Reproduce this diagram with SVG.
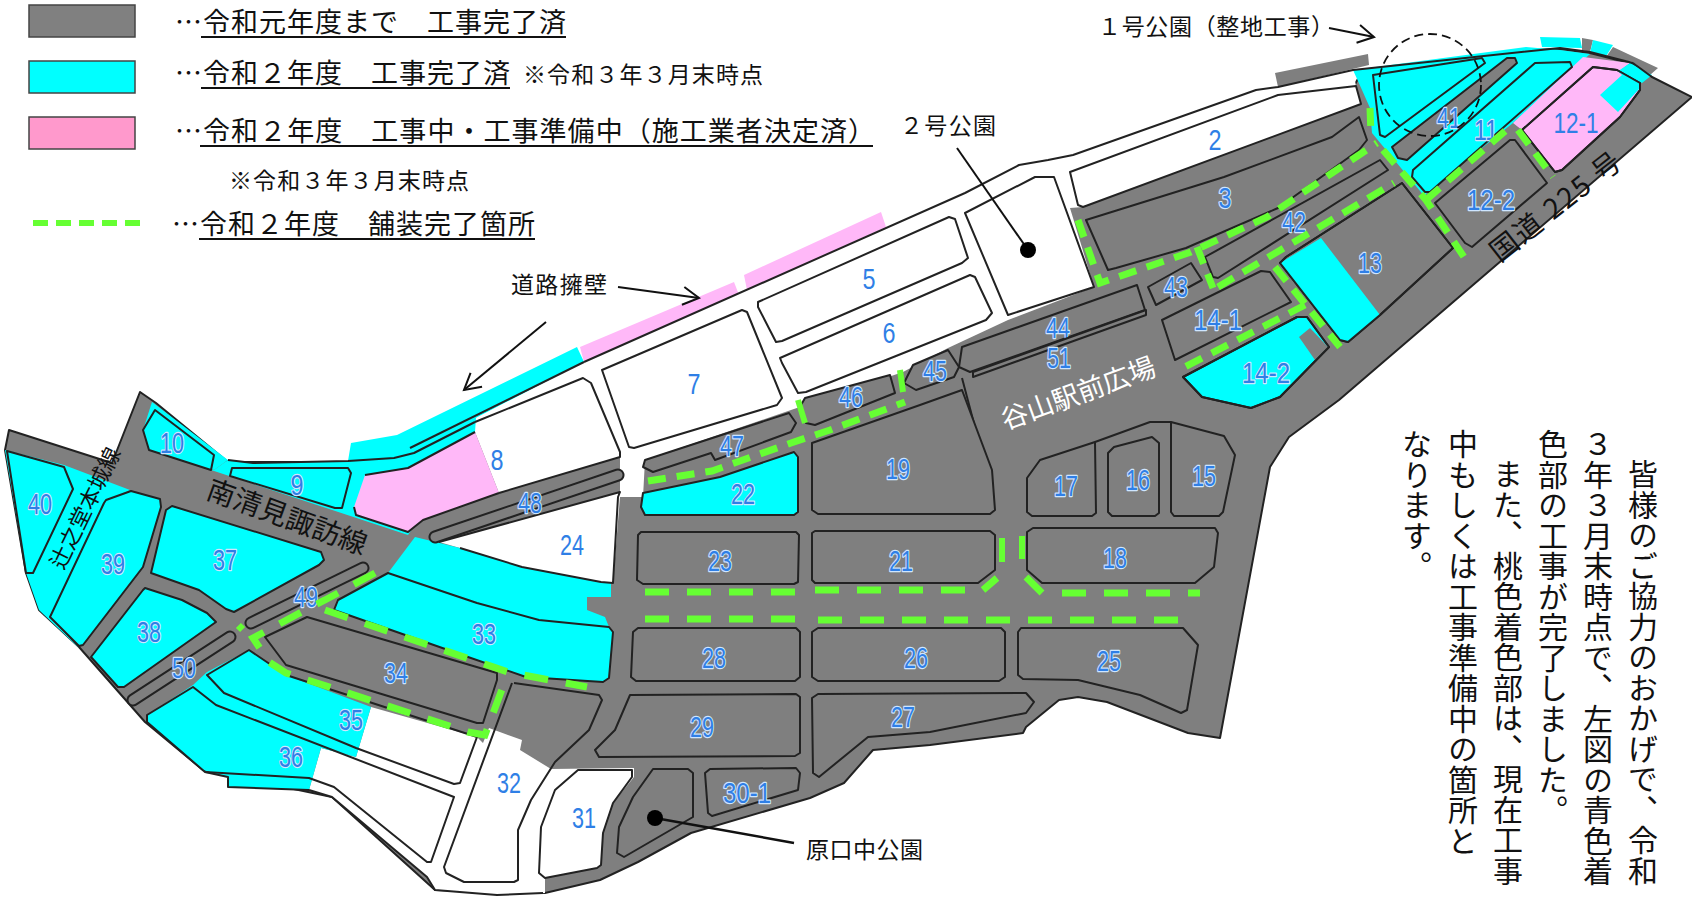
<svg xmlns="http://www.w3.org/2000/svg" width="1692" height="899" viewBox="0 0 1692 899">
<style>
text{font-family:"Noto Sans CJK JP","Noto Sans CJK SC",sans-serif;fill:#111}
.g{fill:#7f7f7f}.c{fill:#00ffff}.p{fill:#ffb8f8}.w{fill:#fff}
.l{stroke:#222;stroke-width:2;stroke-linejoin:round}
.s{fill:none;stroke:#222;stroke-width:2;stroke-linejoin:round}
.co{stroke:#222;stroke-width:13;stroke-linecap:round}
.ci{stroke:#7f7f7f;stroke-width:9;stroke-linecap:round}
.n{font-family:"Liberation Sans",Arial,sans-serif;font-size:29px;fill:#2f7fe6;text-anchor:middle}
.h{stroke:#cfe6ff;stroke-width:2.4px;paint-order:stroke;stroke-linejoin:round}
.le{font-size:27px}.sm{font-size:23px}.an{font-size:23px}
.u{stroke:#111;stroke-width:2}
.d1{fill:none;stroke:#66ff33;stroke-width:7;stroke-dasharray:24 18}
.d2{fill:none;stroke:#66ff33;stroke-width:7;stroke-dasharray:18 11}
.d0{fill:none;stroke:#66ff33;stroke-width:6}
.a{fill:none;stroke:#111;stroke-width:2}
.v{font-size:30px;letter-spacing:.5px;writing-mode:vertical-rl}
</style>
<defs>
<marker id="ah" markerWidth="22" markerHeight="22" refX="18" refY="11" orient="auto" markerUnits="userSpaceOnUse"><path d="M2 2L18 11L2 20" fill="none" stroke="#111" stroke-width="2"/></marker>
</defs>

<g id="legend">
<rect x="29" y="5" width="106" height="32" fill="#808080" stroke="#444" stroke-width="1.5"/>
<rect x="29" y="61" width="106" height="32" fill="#00ffff" stroke="#444" stroke-width="1.5"/>
<rect x="29" y="117" width="106" height="32" fill="#ff99cc" stroke="#444" stroke-width="1.5"/>
<line x1="33" y1="223" x2="143" y2="223" stroke="#66ff33" stroke-width="6" stroke-dasharray="15 8"/>
<text class="le" x="175" y="32" textLength="391">…令和元年度まで　工事完了済</text>
<line class="u" x1="201" y1="37" x2="566" y2="37"/>
<text class="le" x="175" y="83" textLength="335">…令和２年度　工事完了済</text>
<line class="u" x1="201" y1="88" x2="510" y2="88"/>
<text class="sm" x="523" y="83" textLength="240">※令和３年３月末時点</text>
<text class="le" x="175" y="141" textLength="700">…令和２年度　工事中・工事準備中（施工業者決定済）</text>
<line class="u" x1="200" y1="146" x2="873" y2="146"/>
<text class="sm" x="229" y="189" textLength="240">※令和３年３月末時点</text>
<text class="le" x="172" y="234" textLength="363">…令和２年度　舗装完了箇所</text>
<line class="u" x1="199" y1="239" x2="535" y2="239"/>
</g>

<g id="site-base">
<polygon class="p" points="580,347 734,282 739,295 584,362"/>
<polygon class="p" points="744,275 881,212 886,227 747,290"/>
<polygon class="g" points="1275,73 1368,54 1369,65 1278,87"/>
<polygon class="c" points="1540,37 1580,38 1582,48 1542,47"/>
<polygon class="g" points="1582,38 1593,40 1590,52 1582,50"/>
<polygon class="c" points="1593,40 1613,45 1605,58 1590,53"/>
<polygon class="g" points="1613,47 1658,68 1650,75 1633,62 1606,57"/>
<polygon class="g l" points="9,430 112,463 140,392 156,403 228,462 350,462 400,456 475,425 584,365 965,196 1019,168 1073,158 1256,93 1353,88 1360,75 1527,50 1560,49 1590,53 1633,64 1652,77 1692,97 1339,400 1289,437 1270,467 1220,738 1188,733 1107,702 1078,697 1059,700 1026,727 1023,733 930,745 873,750 844,783 810,798 691,833 638,862 600,880 545,893 435,890 332,797 203,770 145,722 79,647 39,610 26,573 5,450"/>
<polygon class="c" points="5,450 64,465 130,490 104,503 50,617 79,648 39,610 26,573"/>
<polygon class="c" points="152,402 228,460 214,470 149,450 143,430"/>
<polygon class="c" points="214,470 228,460 253,463 348,461 351,443 397,435 577,347 584,362 476,418 476,432 408,535 211,470"/>
<polygon class="w" points="584,362 965,193 1019,165 1048,160 1073,155 1256,90 1278,87 1353,70 1356,86 1361,104 1083,207 1070,208 1094,287 1008,320 948,348 903,372 791,410 645,460 643,497 620,497 620,457 499,493 475,432 476,418"/>
<polygon class="p" points="365,475 408,468 475,432 499,493 423,520 408,532 356,515 354,507"/>
<polygon class="w" points="439,542 620,492 620,497 613,583 601,582 522,567 460,548"/>
<polygon class="c" points="415,537 460,548 522,567 601,582 611,583 611,597 587,597 587,610 605,617 609,627 539,620 477,603 388,573"/>
<polygon class="w" points="371,707 477,737 483,743 489,728 522,740 520,750 551,769 634,768 634,777 613,803 603,833 601,865 545,878 545,893 497,895 435,890 427,877 332,797 309,790 321,748 356,757"/>
<polygon class="c" points="147,715 193,685 207,672 249,650 286,675 371,707 356,757 321,748 309,790 228,787 228,777 203,770 147,722"/>
<polygon class="c" points="1353,70 1526,47 1560,50 1590,54 1513,123 1427,192 1425,197 1372,133 1370,108 1362,90"/>
<polygon class="p" points="1583,57 1630,63 1617,73 1593,67 1522,130 1513,123"/>
<polygon class="c" points="1630,63 1652,75 1642,83 1617,72"/>
</g>

<g id="site-outlines">
<polyline class="s" points="584,362 965,193 1019,165 1048,160 1073,155 1256,90 1278,87 1353,70 1560,48 1590,52 1633,63 1652,77"/>
<polyline class="s" points="410,448 584,362"/>
<polyline class="s" points="365,475 408,468 475,432"/>
<polyline class="s" points="354,507 356,515 408,532 423,520 499,493"/>
<polyline class="s" points="475,422 583,378 591,383 620,452 620,457 499,493"/>
<polyline class="s" points="228,460 253,463 348,461 394,458 414,453 475,422"/>
<polyline class="s" points="439,542 620,492 618,497 613,583 601,582 522,567 460,548"/>
<polyline class="s" points="309,790 332,797 427,877 435,890 497,895 543,893"/>
<polyline class="s" points="205,772 228,777 228,787 309,790"/>
<polyline class="s" points="512,683 444,867 446,873 464,882 514,882 518,880 518,830 531,800 555,762 589,730 602,700 599,695 514,683"/>
<polyline class="s" points="1095,442 1150,422 1171,422"/>
</g>

<g id="lot-2"><polygon class="w l" points="1070,172 1278,95 1356,86 1361,104 1083,207 1078,205"/><text class="n" x="1215" y="150" textLength="13" lengthAdjust="spacingAndGlyphs">2</text></g>
<g id="park-2"><polygon class="w l" points="1035,177 1054,177 1094,287 1008,315 965,213"/></g>
<g id="lot-3"><polygon class="g l" points="1359,117 1367,140 1359,150 1278,208 1186,248 1116,268 1108,270 1086,220 1224,177 1332,137"/><text class="n h" x="1225" y="208" textLength="13" lengthAdjust="spacingAndGlyphs">3</text></g>
<g id="lot-5"><polygon class="w l" points="758,302 949,217 955,219 968,258 962,263 782,341 776,342 758,307"/><text class="n" x="869" y="289" textLength="13" lengthAdjust="spacingAndGlyphs">5</text></g>
<g id="lot-6"><polygon class="w l" points="780,358 970,275 975,277 992,313 986,320 806,392 798,393 782,363"/><text class="n" x="889" y="343" textLength="13" lengthAdjust="spacingAndGlyphs">6</text></g>
<g id="lot-7"><polygon class="w l" points="602,370 742,310 747,312 782,398 777,405 634,448 629,447"/><text class="n" x="694" y="394" textLength="13" lengthAdjust="spacingAndGlyphs">7</text></g>
<g id="lot-8"><text class="n" x="497" y="470" textLength="13" lengthAdjust="spacingAndGlyphs">8</text></g>
<g id="lot-9"><polygon class="c l" points="232,468 348,468 351,473 342,508 335,508 230,476"/><text class="n h" x="297" y="495" textLength="13" lengthAdjust="spacingAndGlyphs">9</text></g>
<g id="lot-10"><polygon class="c l" points="155,410 143,430 149,450 211,470 214,455"/><text class="n h" x="172" y="453" textLength="24" lengthAdjust="spacingAndGlyphs">10</text></g>
<g id="lot-1"><polygon class="c l" points="1373,75 1482,58 1485,63 1385,137 1380,135"/></g>
<g id="lot-41"><polygon class="g l" points="1392,147 1507,58 1515,58 1517,63 1407,160 1398,158"/><text class="n h" x="1449" y="128" textLength="24" lengthAdjust="spacingAndGlyphs">41</text></g>
<g id="lot-11"><polygon class="c l" points="1535,63 1570,62 1572,67 1430,192 1425,192 1412,177 1413,170"/><text class="n h" x="1486" y="140" textLength="24" lengthAdjust="spacingAndGlyphs">11</text></g>
<g id="lot-12-1"><polygon class="p l" points="1593,67 1617,70 1640,83 1640,90 1620,117 1562,170 1555,172 1522,130"/><polygon class="c" points="1622,75 1600,95 1618,112 1640,88 1640,83 1617,70"/><polygon class="s" points="1593,67 1617,70 1640,83 1640,90 1620,117 1562,170 1555,172 1522,130"/><text class="n" x="1576" y="133" textLength="45" lengthAdjust="spacingAndGlyphs">12-1</text></g>
<g id="lot-12-2"><polygon class="g l" points="1510,140 1515,140 1547,183 1472,247 1465,243 1435,203"/><text class="n h" x="1491" y="210" textLength="48" lengthAdjust="spacingAndGlyphs">12-2</text></g>
<g id="lot-13"><polygon class="g l" points="1402,183 1453,248 1380,315 1348,342 1340,340 1280,263 1286,257"/><polygon class="c" points="1321,238 1380,315 1348,342 1340,340 1280,263"/><polygon class="s" points="1402,183 1453,248 1380,315 1348,342 1340,340 1280,263 1286,257"/><text class="n h" x="1370" y="273" textLength="24" lengthAdjust="spacingAndGlyphs">13</text></g>
<g id="lot-14-1"><polygon class="g l" points="1261,271 1270,272 1291,302 1175,360 1162,320"/><text class="n h" x="1218" y="330" textLength="48" lengthAdjust="spacingAndGlyphs">14-1</text></g>
<g id="lot-14-2"><polygon class="c l" points="1297,317 1307,317 1329,347 1280,397 1251,408 1202,397 1183,377"/><polygon class="g" points="1310,328 1299,337 1315,360 1328,347"/><polygon class="s" points="1297,317 1307,317 1329,347 1280,397 1251,408 1202,397 1183,377"/><text class="n h" x="1266" y="383" textLength="48" lengthAdjust="spacingAndGlyphs">14-2</text></g>
<g id="lot-42"><polygon class="g l" points="1380,160 1388,170 1218,278 1213,277 1205,257"/><text class="n h" x="1294" y="232" textLength="24" lengthAdjust="spacingAndGlyphs">42</text></g>
<g id="lot-43"><polygon class="g l" points="1191,263 1202,280 1156,305 1148,287"/><text class="n h" x="1176" y="297" textLength="24" lengthAdjust="spacingAndGlyphs">43</text></g>
<g id="lot-44"><polygon class="g l" points="962,347 1137,285 1145,310 970,372 959,367"/><text class="n h" x="1058" y="338" textLength="24" lengthAdjust="spacingAndGlyphs">44</text></g>
<g id="lot-51"><polygon class="g l" points="973,372 973,377 1146,315 1146,310"/><polyline class="s" points="962,378 981,450"/><text class="n h" x="1059" y="368" textLength="24" lengthAdjust="spacingAndGlyphs">51</text></g>
<g id="lot-45"><polygon class="g l" points="948,350 959,367 954,377 916,390 904,383 913,365"/><text class="n h" x="935" y="381" textLength="24" lengthAdjust="spacingAndGlyphs">45</text></g>
<g id="lot-46"><polygon class="g l" points="890,375 895,393 815,425 806,423 801,405 805,398"/><text class="n h" x="851" y="407" textLength="24" lengthAdjust="spacingAndGlyphs">46</text></g>
<g id="lot-47"><polygon class="g l" points="789,413 796,423 791,432 715,460 711,453 653,472 643,467 645,460"/><text class="n h" x="732" y="456" textLength="24" lengthAdjust="spacingAndGlyphs">47</text></g>
<g id="lot-48"><line class="co" x1="435" y1="537" x2="618" y2="475"/><line class="ci" x1="435" y1="537" x2="618" y2="475"/><text class="n h" x="530" y="513" textLength="24" lengthAdjust="spacingAndGlyphs">48</text></g>
<g id="lot-49"><line class="co" x1="251" y1="623" x2="363" y2="568"/><line class="ci" x1="251" y1="623" x2="363" y2="568"/><text class="n h" x="306" y="607" textLength="24" lengthAdjust="spacingAndGlyphs">49</text></g>
<g id="lot-50"><line class="co" x1="133" y1="700" x2="230" y2="637"/><line class="ci" x1="133" y1="700" x2="230" y2="637"/><text class="n h" x="184" y="678" textLength="24" lengthAdjust="spacingAndGlyphs">50</text></g>
<g id="lot-15"><polygon class="g l" points="1171,422 1224,436 1235,455 1223,512 1219,516 1174,516 1171,512"/><text class="n h" x="1204" y="486" textLength="24" lengthAdjust="spacingAndGlyphs">15</text></g>
<g id="lot-16"><polygon class="g l" points="1114,447 1152,437 1159,443 1159,513 1155,516 1112,516 1108,512 1108,453"/><text class="n h" x="1138" y="490" textLength="24" lengthAdjust="spacingAndGlyphs">16</text></g>
<g id="lot-17"><polygon class="g l" points="1040,460 1095,442 1096,513 1092,516 1032,516 1027,512 1027,478"/><text class="n h" x="1066" y="496" textLength="24" lengthAdjust="spacingAndGlyphs">17</text></g>
<g id="lot-18"><polygon class="g l" points="1033,528 1215,528 1218,533 1214,567 1195,583 1042,583 1027,570 1027,532"/><text class="n h" x="1115" y="568" textLength="24" lengthAdjust="spacingAndGlyphs">18</text></g>
<g id="lot-19"><polygon class="g l" points="812,443 920,405 962,390 992,470 995,510 990,514 818,514 812,510"/><text class="n h" x="898" y="479" textLength="24" lengthAdjust="spacingAndGlyphs">19</text></g>
<g id="lot-21"><polygon class="g l" points="815,531 990,531 995,535 995,570 978,583 815,583 812,580 812,533"/><text class="n h" x="901" y="571" textLength="24" lengthAdjust="spacingAndGlyphs">21</text></g>
<g id="lot-22"><polygon class="c l" points="794,452 798,457 798,512 794,515 645,515 641,507 643,493 720,477"/><text class="n h" x="743" y="504" textLength="24" lengthAdjust="spacingAndGlyphs">22</text></g>
<g id="lot-23"><polygon class="g l" points="641,532 796,532 799,535 798,582 794,584 643,584 637,580 638,535"/><text class="n h" x="720" y="571" textLength="24" lengthAdjust="spacingAndGlyphs">23</text></g>
<g id="lot-24"><text class="n" x="572" y="555" textLength="24" lengthAdjust="spacingAndGlyphs">24</text></g>
<g id="lot-25"><polygon class="g l" points="1021,628 1183,628 1198,645 1187,710 1181,713 1140,695 1078,680 1023,679 1018,675 1018,632"/><text class="n h" x="1109" y="671" textLength="24" lengthAdjust="spacingAndGlyphs">25</text></g>
<g id="lot-26"><polygon class="g l" points="818,628 1001,628 1005,632 1005,677 999,681 818,681 812,677 812,632"/><text class="n h" x="916" y="668" textLength="24" lengthAdjust="spacingAndGlyphs">26</text></g>
<g id="lot-27"><polygon class="g l" points="818,694 1026,693 1034,702 1026,713 930,732 868,737 819,777 813,773 812,698"/><text class="n h" x="903" y="727" textLength="24" lengthAdjust="spacingAndGlyphs">27</text></g>
<g id="lot-28"><polygon class="g l" points="638,628 796,628 800,632 800,677 795,681 636,681 631,677 633,632"/><text class="n h" x="714" y="668" textLength="24" lengthAdjust="spacingAndGlyphs">28</text></g>
<g id="lot-29"><polygon class="g l" points="630,695 796,694 800,697 800,753 795,756 599,757 595,750 615,730"/><text class="n h" x="702" y="737" textLength="24" lengthAdjust="spacingAndGlyphs">29</text></g>
<g id="lot-30-1"><polygon class="g l" points="710,769 796,768 800,773 798,790 712,816 708,813 705,773"/><text class="n h" x="747" y="803" textLength="48" lengthAdjust="spacingAndGlyphs">30-1</text></g>
<g id="harakuchi-park"><polygon class="g l" points="653,769 688,769 693,773 693,817 624,857 617,853 619,827 633,797"/></g>
<g id="lot-31"><polygon class="w l" points="578,770 632,770 632,777 613,803 603,833 601,865 597,868 545,878 539,873 541,827 555,790"/><text class="n" x="584" y="828" textLength="24" lengthAdjust="spacingAndGlyphs">31</text></g>
<g id="lot-32"><text class="n" x="509" y="793" textLength="24" lengthAdjust="spacingAndGlyphs">32</text></g>
<g id="lot-33"><polygon class="c l" points="388,573 477,603 539,620 609,627 613,632 609,678 603,682 526,677 468,657 334,610 338,600"/><text class="n h" x="484" y="644" textLength="24" lengthAdjust="spacingAndGlyphs">33</text></g>
<g id="lot-34"><polygon class="g l" points="307,617 497,673 497,680 483,723 477,723 286,665 265,637"/><text class="n h" x="396" y="683" textLength="24" lengthAdjust="spacingAndGlyphs">34</text></g>
<g id="lot-35"><polygon class="s" points="249,650 286,675 477,737 460,783 454,784 356,748 224,693 207,675"/><text class="n h" x="351" y="730" textLength="24" lengthAdjust="spacingAndGlyphs">35</text></g>
<g id="lot-36"><polygon class="s" points="193,687 216,705 454,797 431,862 427,862 334,787 309,778 205,772 147,722 147,715"/><text class="n h" x="291" y="767" textLength="24" lengthAdjust="spacingAndGlyphs">36</text></g>
<g id="lot-37"><polygon class="c l" points="172,506 321,552 324,560 319,565 234,612 226,609 199,590 151,573 166,510"/><text class="n h" x="225" y="570" textLength="24" lengthAdjust="spacingAndGlyphs">37</text></g>
<g id="lot-38"><polygon class="c l" points="145,588 182,600 207,613 216,622 124,687 118,687 91,657 143,590"/><text class="n h" x="149" y="642" textLength="24" lengthAdjust="spacingAndGlyphs">38</text></g>
<g id="lot-39"><polygon class="c l" points="106,500 131,491 160,499 161,507 143,567 83,645 79,646 50,617 104,503"/><text class="n h" x="113" y="574" textLength="24" lengthAdjust="spacingAndGlyphs">39</text></g>
<g id="lot-40"><polygon class="c l" points="7,451 64,467 73,489 33,573 26,573"/><text class="n h" x="40" y="514" textLength="24" lengthAdjust="spacingAndGlyphs">40</text></g>

<g id="connectors">
<path class="d1" d="M645 592H796M815 590H983L997 578"/>
<path class="d1" d="M1026 577L1042 593M1062 593H1200"/>
<path class="d1" d="M645 619H796M818 620H1193"/>
<path class="d0" d="M1002 538V562M1022 536V559M900 370L903 392M798 400L805 423"/>
<path class="d2" d="M648 481L712 471L791 443L830 430L905 402"/>
<path class="d1" d="M375 573L325 600L309 608L253 638L269 662L286 673L468 732L485 735L508 673"/>
<path class="d1" d="M325 610L508 672L539 678L587 687"/>
<path class="d0" d="M238 630L243 625"/>
<path class="d2" d="M1078 220L1100 283L1191 252L1267 217L1332 173L1377 143M1370 108L1371 135"/>
<path class="d2" d="M1197 247L1213 288M1218 287L1394 183"/>
<path class="d2" d="M1383 150L1426 200L1464 257M1426 200L1512 125M1518 130L1553 177"/>
<path class="d2" d="M1275 267L1340 347M1305 305L1183 368"/>
<line class="a" x1="618" y1="287" x2="699" y2="298" marker-end="url(#ah)"/>
<line class="a" x1="546" y1="322" x2="464" y2="390" marker-end="url(#ah)"/>
<line class="a" x1="1329" y1="28" x2="1374" y2="37" marker-end="url(#ah)"/>
<line class="a" x1="957" y1="148" x2="1028" y2="250"/>
<circle cx="1028" cy="250" r="8" fill="#000"/>
<line x1="655" y1="818" x2="794" y2="843" stroke="#111" stroke-width="2.5"/>
<circle cx="655" cy="818" r="8" fill="#000"/>
<circle cx="1430" cy="85" r="51" fill="none" stroke="#111" stroke-width="1.8" stroke-dasharray="9 5"/>
</g>

<g id="annotations">
<text class="an" x="511" y="293" textLength="96">道路擁壁</text>
<text class="an" x="900" y="134" textLength="96">２号公園</text>
<text class="an" x="1098" y="35" textLength="236">１号公園（整地工事）</text>
<text class="an" x="806" y="858" textLength="117">原口中公園</text>
<text x="287" y="527" font-size="28" text-anchor="middle" transform="rotate(20 287 517)">南清見諏訪線</text>
<text x="85" y="516" font-size="22" text-anchor="middle" transform="rotate(-64 85 508)">辻之堂本城線</text>
<text x="1556" y="216" font-size="28" text-anchor="middle" letter-spacing="2" transform="rotate(-38 1556 206)">国道 225 号</text>
<text x="1078" y="403" font-size="27" text-anchor="middle" style="fill:#fff" transform="rotate(-20 1078 393)">谷山駅前広場</text>
</g>

<g id="notice">
<text class="v" x="1643" y="459">皆様のご協力のおかげで、令和</text>
<text class="v" x="1598" y="429">３年３月末時点で、左図の青色着</text>
<text class="v" x="1553" y="429">色部の工事が完了しました。</text>
<text class="v" x="1508" y="459">また、桃色着色部は、現在工事</text>
<text class="v" x="1463" y="429">中もしくは工事準備中の箇所と</text>
<text class="v" x="1417" y="429">なります。</text>
</g>
</svg>
